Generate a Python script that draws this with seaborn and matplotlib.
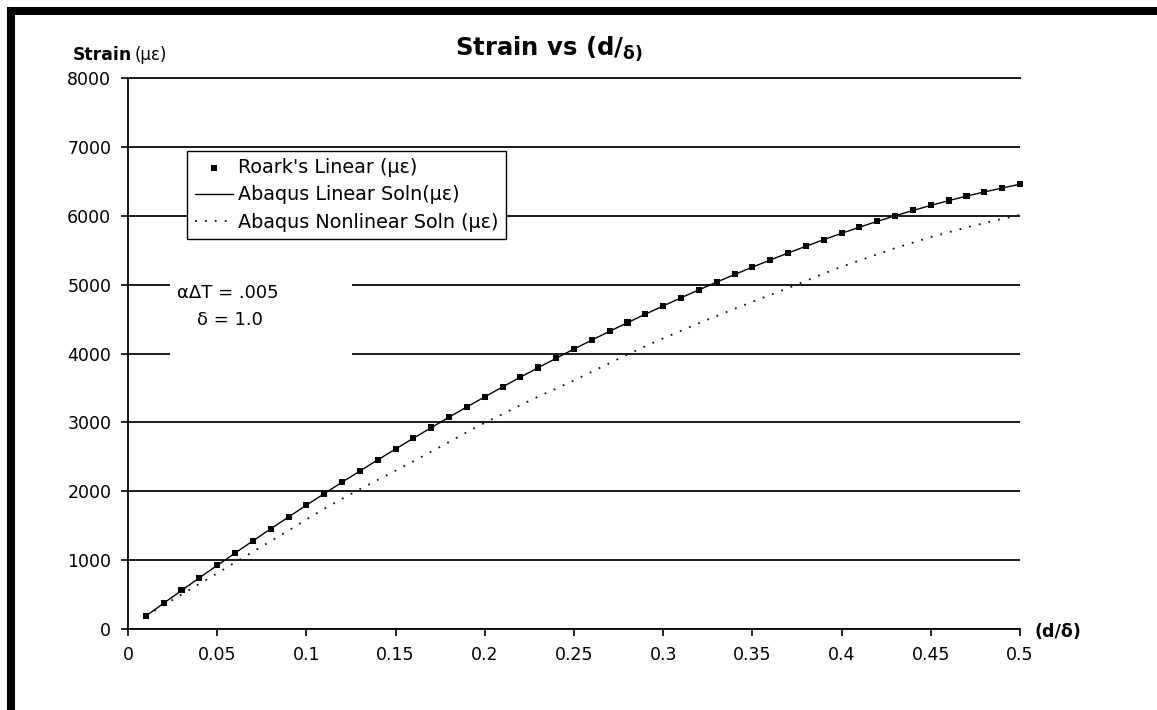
import matplotlib
matplotlib.use("Agg")
import matplotlib.pyplot as plt
import seaborn as sns
import pandas as pd
from matplotlib.patches import Rectangle

# ---------------- data ----------------
d_values = [0.01, 0.02, 0.03, 0.04, 0.05, 0.06, 0.07, 0.08, 0.09, 0.10,
            0.11, 0.12, 0.13, 0.14, 0.15, 0.16, 0.17, 0.18, 0.19, 0.20,
            0.21, 0.22, 0.23, 0.24, 0.25, 0.26, 0.27, 0.28, 0.29, 0.30,
            0.31, 0.32, 0.33, 0.34, 0.35, 0.36, 0.37, 0.38, 0.39, 0.40,
            0.41, 0.42, 0.43, 0.44, 0.45, 0.46, 0.47, 0.48, 0.49, 0.50]

roark_linear = [189, 376, 561, 744, 925, 1104, 1281, 1456, 1628, 1799,
                1967, 2133, 2296, 2457, 2616, 2772, 2926, 3078, 3227, 3373,
                3517, 3659, 3797, 3933, 4067, 4197, 4325, 4450, 4573, 4693,
                4811, 4926, 5039, 5149, 5256, 5360, 5461, 5560, 5655, 5747,
                5836, 5921, 6002, 6079, 6152, 6222, 6287, 6348, 6405, 6460]

abaqus_linear = [187, 374, 559, 742, 923, 1102, 1279, 1454, 1626, 1797,
                 1965, 2131, 2294, 2455, 2614, 2770, 2924, 3076, 3225, 3371,
                 3515, 3657, 3795, 3931, 4065, 4195, 4323, 4448, 4571, 4691,
                 4809, 4924, 5037, 5147, 5254, 5358, 5459, 5558, 5653, 5745,
                 5834, 5919, 6000, 6077, 6150, 6220, 6285, 6346, 6403, 6458]

abaqus_nonlinear = [190, 345, 500, 655, 808, 965, 1120, 1275, 1430, 1590,
                    1745, 1890, 2030, 2165, 2300, 2435, 2575, 2715, 2860, 2995,
                    3120, 3250, 3375, 3490, 3610, 3735, 3860, 3985, 4105, 4220,
                    4330, 4440, 4545, 4650, 4750, 4850, 4950, 5055, 5160, 5260,
                    5350, 5440, 5530, 5610, 5690, 5760, 5830, 5895, 5955, 6010]

x_ticks = [0, 0.05, 0.1, 0.15, 0.2, 0.25, 0.3, 0.35, 0.4, 0.45, 0.5]
x_tick_labels = ["0", "0.05", "0.1", "0.15", "0.2", "0.25", "0.3", "0.35", "0.4", "0.45", "0.5"]
y_ticks = [0, 1000, 2000, 3000, 4000, 5000, 6000, 7000, 8000]
y_tick_labels = ["0", "1000", "2000", "3000", "4000", "5000", "6000", "7000", "8000"]

label_roark = "Roark's Linear (με)"
label_lin = "Abaqus Linear Soln(με)"
label_nonlin = "Abaqus Nonlinear Soln (με)"

# ---------------- style ----------------
sns.set_theme(style="white")
plt.rcParams['font.family'] = ['DejaVu Sans']
plt.rcParams['mathtext.fontset'] = 'dejavusans'
plt.rcParams['text.color'] = 'black'
plt.rcParams['legend.labelcolor'] = 'black'

fig = plt.figure(figsize=(11.57, 7.10), dpi=100)
ax = fig.add_axes([0.1106, 0.1141, 0.7710, 0.7760])

df = pd.DataFrame({"d": d_values, "roark": roark_linear,
                   "lin": abaqus_linear, "nonlin": abaqus_nonlinear})

sns.lineplot(data=df, x="d", y="lin", ax=ax, color="black", lw=1.0,
             label=label_lin, zorder=3)
sns.lineplot(data=df, x="d", y="nonlin", ax=ax, color="#111111", lw=1.3,
             linestyle=(0, (1, 4.5)), label=label_nonlin, zorder=3)
sns.scatterplot(data=df, x="d", y="roark", ax=ax, color="black", marker="s",
                s=19, edgecolor="none", label=label_roark, zorder=4, clip_on=False)

ax.set_xlim(0, 0.5)
ax.set_ylim(0, 8000)
ax.set_xticks(x_ticks)
ax.set_xticklabels(x_tick_labels)
ax.set_yticks(y_ticks)
ax.set_yticklabels(y_tick_labels)
ax.set_xlabel("")
ax.set_ylabel("")

ax.yaxis.grid(True, color="#1a1a1a", lw=1.4)
ax.xaxis.grid(False)
ax.set_axisbelow(True)

for side in ["left", "bottom"]:
    ax.spines[side].set_color("black")
    ax.spines[side].set_linewidth(1.3)
ax.spines["top"].set_color("#1a1a1a")
ax.spines["top"].set_linewidth(1.4)
ax.spines["right"].set_visible(False)

ax.tick_params(axis="both", which="major", direction="out", length=5, width=1.2,
               color="black", labelsize=12.5, pad=7, labelcolor="black",
               bottom=True, left=True)

# white text box with annotation
ax.add_patch(Rectangle((0.0235, 3650), 0.102, 1850, facecolor="white",
                       edgecolor="none", zorder=1.5))
ax.text(0.056, 4880, "αΔT = .005", ha="center", va="center", fontsize=13,
        color="black", zorder=5)
ax.text(0.057, 4490, "δ = 1.0", ha="center", va="center", fontsize=13,
        color="black", zorder=5)

# legend
handles, labels = ax.get_legend_handles_labels()
order = [labels.index(label_roark), labels.index(label_lin), labels.index(label_nonlin)]
leg = ax.legend([handles[i] for i in order], [labels[i] for i in order],
                loc="upper left", bbox_to_anchor=(0.0667, 0.868), borderaxespad=0,
                fontsize=13.8, frameon=True, fancybox=False, framealpha=1,
                edgecolor="black", borderpad=0.4, labelspacing=0.42,
                handlelength=1.95, handletextpad=0.3)
leg.get_frame().set_linewidth(1.0)
for t in leg.get_texts():
    t.set_color("black")
leg.set_zorder(6)

# titles / axis labels
fig.text(549 / 1157, 1 - 56 / 710, r"Strain vs (d/$_\mathbf{δ)}$", ha="center",
         va="baseline", fontsize=17.5, fontweight="bold", color="black")
fig.text(73 / 1157, 1 - 60 / 710, "Strain", ha="left", va="baseline",
         fontsize=12.4, fontweight="bold", color="black")
fig.text(135 / 1157, 1 - 60 / 710, "(με)", ha="left", va="baseline",
         fontsize=12, color="black")
fig.text(1035 / 1157, 1 - 632 / 710, "(d/δ)", ha="left", va="center",
         fontsize=12.6, fontweight="bold", color="black")

# thick black frame on top and left
fig.add_artist(Rectangle((7 / 1157, 1 - 15 / 710), 1 - 7 / 1157, 8 / 710,
                         transform=fig.transFigure, facecolor="black",
                         edgecolor="none"))
fig.add_artist(Rectangle((7 / 1157, 0), 8 / 1157, 1 - 7 / 710,
                         transform=fig.transFigure, facecolor="black",
                         edgecolor="none"))

fig.savefig("out.png", dpi=100)
